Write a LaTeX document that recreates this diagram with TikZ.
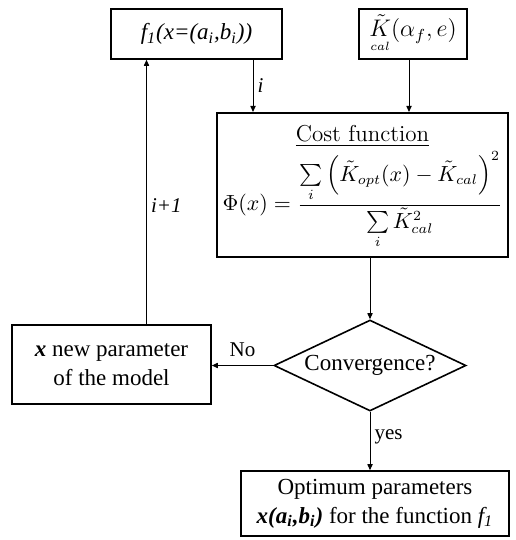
\documentclass[tikz,border=0pt]{standalone}
\usepackage{amsmath}
\usepackage{fontspec}
\setmainfont{Liberation Serif}
\usetikzlibrary{shapes.geometric,arrows.meta}
\begin{document}
\begin{tikzpicture}[x=0.5pt,y=-0.5pt,
  box/.style={draw, line width=0.8pt, inner sep=1pt, align=center,
    font=\fontsize{11.5}{14.5}\selectfont},
  arr/.style={-{Triangle[length=3pt,width=2.6pt]}, line width=0.5pt},
  lab/.style={font=\fontsize{10.5}{12}\selectfont, inner sep=2pt}]
\useasboundingbox (0,0) rectangle (515,540);

\node[box, minimum width=85.5pt, minimum height=25pt] (f1) at (196.5,34)
  {\itshape f\textsubscript{1}(x=(a\textsubscript{i},b\textsubscript{i}))};
\node[box, minimum width=54pt, minimum height=25pt] (K) at (413,34)
  {$\underset{\scriptscriptstyle cal}{\tilde{K}}(\alpha_f,e)$};
\node[box, line width=1pt, minimum width=145.5pt, minimum height=72pt] (cost) at (362.5,185)
  {\begin{tabular}{@{}c@{}}
   {\fontfamily{lmr}\selectfont\underline{Cost function}}\\[1pt]
   {\fontsize{10.6}{13}\selectfont
   $\displaystyle\Phi(x)=\frac{\sum\limits_i\Big(\tilde K_{opt}(x)-\tilde K_{cal}\Big)^2}{\sum\limits_i\tilde K_{cal}^2}$}
   \end{tabular}};
\node[draw, diamond, aspect=2.1, inner sep=0pt, minimum width=96pt, minimum height=45.5pt,
  line width=0.8pt, font=\fontsize{11.5}{14.5}\selectfont] (dia) at (370,365.5) {Convergence?};
\node[box, minimum width=99.5pt, minimum height=39.5pt] (newp) at (111.5,364.5)
  {\textbf{\textit{x}} new parameter\\of the model};
\node[box, minimum width=134pt, minimum height=32.5pt] (opt) at (375,503.5)
  {Optimum parameters\\\textbf{\textit{x(a\textsubscript{i},b\textsubscript{i})}} for the function \textit{f\textsubscript{1}}};

\coordinate (ix) at (253,0);
\coordinate (kx) at (409,0);
\coordinate (lx) at (146.5,0);

\draw[arr] (f1.south -| ix) -- node[lab, right]{\textit{i}} (cost.north -| ix);
\draw[arr] (K.south -| kx) -- (cost.north -| kx);
\draw[arr] (cost.south -| dia.north) -- (dia.north);
\draw[arr] (dia.west) -- node[lab, above, yshift=2pt]{No} (newp.east |- dia.west);
\draw[arr] (newp.north -| lx) -- node[lab, right, pos=0.45]{\textit{i+1}} (f1.south -| lx);
\draw[arr] (dia.south) -- node[lab, right, pos=0.42]{yes} (opt.north -| dia.south);
\end{tikzpicture}
\end{document}
